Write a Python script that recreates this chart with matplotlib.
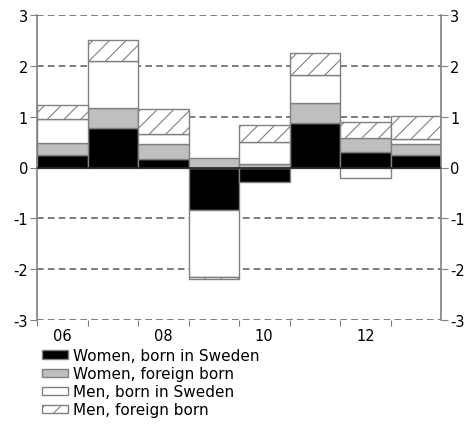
import numpy as np
import matplotlib.pyplot as plt
from matplotlib.patches import Patch

## data, percent
years = ['06', '07', '08', '09', '10', '11', '12', '13']
women_sweden = [0.25, 0.78, 0.16, -0.84, -0.28, 0.87, 0.30, 0.25]
women_foreign = [0.24, 0.39, 0.30, 0.18, 0.06, 0.40, 0.29, 0.22]
men_sweden = [0.46, 0.93, 0.20, -1.31, 0.45, 0.54, -0.21, 0.10]
men_foreign = [0.27, 0.40, 0.50, -0.05, 0.32, 0.45, 0.30, 0.45]
labels = ['Women, born in Sweden', 'Women, foreign born',
          'Men, born in Sweden', 'Men, foreign born']

plt.rcParams['font.family'] = 'DejaVu Sans'
plt.rcParams['axes.unicode_minus'] = False
plt.rcParams['hatch.color'] = '#a0a0a0'
plt.rcParams['hatch.linewidth'] = 0.8

fig = plt.figure(figsize=(4.68, 4.27), dpi=100)
ax = fig.add_axes([37/468, 1-321/427, 404/468, 305/427])

edge = '#808080'
styles = [dict(fc='black', hatch=None),
          dict(fc='#bfbfbf', hatch=None),
          dict(fc='white', hatch=None),
          dict(fc='white', hatch='//')]
series = [women_sweden, women_foreign, men_sweden, men_foreign]

x = np.arange(len(years))
pos = np.zeros(len(years))
neg = np.zeros(len(years))
for vals, st in zip(series, styles):
    vals = np.array(vals)
    base = np.where(vals >= 0, pos, neg)
    ax.bar(x, vals, width=1.0, bottom=base, color=st['fc'], edgecolor=edge,
           linewidth=1.0, hatch=st['hatch'], zorder=2)
    pos = np.where(vals >= 0, pos + vals, pos)
    neg = np.where(vals < 0, neg + vals, neg)

ax.axhline(0, color='#222222', lw=1.2, zorder=3)
for yv in [-3, -2, -1, 1, 2, 3]:
    ax.axhline(yv, color='#666666', lw=1.2, ls=(0, (4, 2.5)), zorder=1)

ax.set_xlim(-0.5, 7.5)
ax.set_ylim(-3, 3)
ax.set_yticks(range(-3, 4))
ax.set_xticks(np.arange(-0.5, 7.5, 1.0))
ax.set_xticklabels([])
ax.set_xticks(x[::2], minor=True)
ax.set_xticklabels(years[::2], minor=True)
ax.tick_params(axis='x', which='minor', length=0, pad=6, labelsize=10.5)
ax.tick_params(axis='x', which='major', direction='out', length=4, color=edge)
ax.tick_params(axis='y', direction='out', length=5, color=edge, labelsize=10.5,
               left=True, right=True, labelleft=True, labelright=True, pad=1.5)
for s in ['top', 'bottom']:
    ax.spines[s].set_visible(False)
for s in ['left', 'right']:
    ax.spines[s].set_color(edge)
    ax.spines[s].set_linewidth(1.2)

handles = [Patch(facecolor=st['fc'], edgecolor=edge, hatch=st['hatch'], label=l)
           for st, l in zip(styles, labels)]
fig.legend(handles=handles, loc='upper left', bbox_to_anchor=(42/468, 1-349/427),
           frameon=False, fontsize=11, handlelength=1.7, handleheight=0.45,
           handletextpad=0.3, labelspacing=0.2, borderpad=0, borderaxespad=0)

fig.savefig('out.png', dpi=100)
